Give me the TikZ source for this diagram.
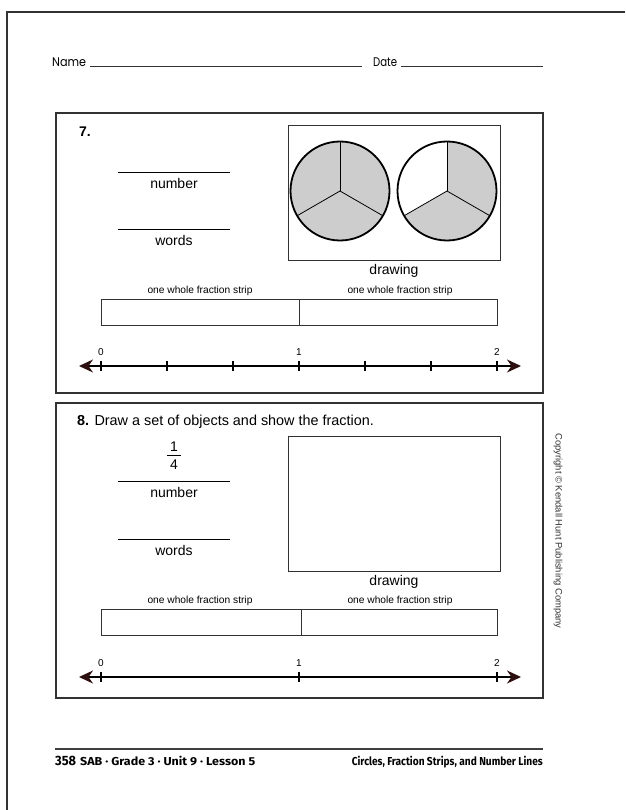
\documentclass[tikz,border=0pt]{standalone}
\usepackage{fontspec}
\setmainfont{Liberation Sans}
\newfontfamily\namefont{Poppins}
\newfontfamily\footfont{Fira Sans}
\usetikzlibrary{arrows.meta}
\definecolor{arrowc}{RGB}{45,15,15}
\definecolor{fillg}{RGB}{205,205,205}
\definecolor{framec}{RGB}{50,50,50}
\begin{document}
\begin{tikzpicture}[x=1pt,y=-1pt,
  frame/.style={draw=framec, line width=1.1pt},
  blank/.style={draw=black, line width=0.9pt},
  body/.style={font=\fontsize{14}{16}\selectfont, inner sep=0pt},
  small/.style={font=\fontsize{10.2}{12}\selectfont, inner sep=0pt},
  ticklab/.style={font=\fontsize{10}{12}\selectfont, inner sep=0pt},
  strip/.style={draw=framec, line width=1pt},
  nline/.style={draw=black, line width=1.3pt, {Stealth[length=14pt,width=13pt,inset=4.5pt,color=arrowc]}-{Stealth[length=14pt,width=13pt,inset=4.5pt,color=arrowc]}},
  tk/.style={draw=black, line width=1.2pt},
  circ/.style={draw=black, line width=1.8pt},
  sect/.style={draw=black, line width=0.8pt}
]
\useasboundingbox (0,0) rectangle (625,810);
\fill[white] (0,0) rectangle (625,810);
% page frame
\coordinate (ptr) at (625,12); \coordinate (ptl) at (7,12); \coordinate (pbl) at (7,810);
\draw[line width=1.2pt, framec] (ptr) -- (ptl) -- (pbl);
% header
\node[anchor=base west, inner sep=0pt, font=\namefont\fontsize{12.5}{14}\selectfont] (name) at (52,67) {\resizebox{34pt}{\height}{Name}};
\coordinate (nl1) at (90,66.5); \coordinate (nl2) at (362,66.5);
\draw[line width=0.9pt, black!80] (nl1) -- (nl2);
\node[anchor=base west, inner sep=0pt, font=\namefont\fontsize{12.5}{14}\selectfont] (date) at (373,67) {\resizebox{24pt}{\height}{Date}};
\coordinate (dl1) at (401,66.5); \coordinate (dl2) at (543,66.5);
\draw[line width=0.9pt, black!80] (dl1) -- (dl2);

% ===== Problem 7 =====
\draw[frame] (56,113) rectangle (543,393);
\node[body, anchor=west, font=\bfseries\fontsize{14}{16}\selectfont] (p7) at (79,132) {7.};
\coordinate (a1) at (118,172); \coordinate (a2) at (230,172);
\draw[blank] (a1) -- (a2);
\node[body] (num7) at (174,183) {number};
\coordinate (b1) at (118,229); \coordinate (b2) at (230,229);
\draw[blank] (b1) -- (b2);
\node[body] (words7) at (174,240) {words};
\draw[strip] (288,126) rectangle (500,260);
\node[body] (draw7) at (394,271) {drawing};
% circles
\coordinate (c1) at (340,191);
\coordinate (c2) at (447,191);
\fill[fillg] (c1) circle (49.5pt);
\fill[fillg] (c2) circle (49.5pt);
\fill[white] (c2) -- ++(90:49.5pt) arc[start angle=90,end angle=210,radius=49.5pt] -- cycle;
\foreach \c in {c1,c2}{
  \draw[sect] (\c) -- ++(90:49.5pt);
  \draw[sect] (\c) -- ++(210:49.5pt);
  \draw[sect] (\c) -- ++(330:49.5pt);
  \draw[circ] (\c) circle (49.5pt);
}
% strips
\node[small] (s7a) at (200,291) {one whole fraction strip};
\node[small] (s7b) at (400,291) {one whole fraction strip};
\draw[strip] (101,299) rectangle (497,325);
\coordinate (d7t) at (299,299); \coordinate (d7b) at (299,325);
\draw[strip] (d7t) -- (d7b);
% number line
\coordinate (L7) at (79,366); \coordinate (R7) at (521,366);
\draw[nline] (L7) -- (R7);
\foreach \i in {0,...,6}{
  \draw[tk] ({101+66*\i},361) -- ({101+66*\i},371);
}
\node[ticklab] (z7) at (101,352) {0};
\node[ticklab] (o7) at (299,352) {1};
\node[ticklab] (t7) at (497,352) {2};

% ===== Problem 8 =====
\draw[frame] (56,403) rectangle (543,698);
\node[body, anchor=west, font=\fontsize{14.4}{16}\selectfont] (p8) at (77,422) {\textbf{8.} Draw a set of objects and show the fraction.};
\node[body] (f1) at (174,447) {1};
\coordinate (fb1) at (167,455.5); \coordinate (fb2) at (181,455.5);
\draw[line width=0.9pt] (fb1) -- (fb2);
\node[body] (f4) at (174,465) {4};
\coordinate (e1) at (118,481); \coordinate (e2) at (230,481);
\draw[blank] (e1) -- (e2);
\node[body] (num8) at (174,492) {number};
\coordinate (g1) at (118,539); \coordinate (g2) at (230,539);
\draw[blank] (g1) -- (g2);
\node[body] (words8) at (174,550) {words};
\draw[strip] (288,436) rectangle (500,571);
\node[body] (draw8) at (394,582) {drawing};
\node[small] (s8a) at (200,601) {one whole fraction strip};
\node[small] (s8b) at (400,601) {one whole fraction strip};
\draw[strip] (101,609) rectangle (497,635);
\coordinate (d8t) at (301,609); \coordinate (d8b) at (301,635);
\draw[strip] (d8t) -- (d8b);
\coordinate (L8) at (79,677); \coordinate (R8) at (521,677);
\draw[nline] (L8) -- (R8);
\foreach \x in {101,299,497}{
  \draw[tk] (\x,672) -- (\x,682);
}
\node[ticklab] (z8) at (101,663) {0};
\node[ticklab] (o8) at (299,663) {1};
\node[ticklab] (t8) at (497,663) {2};

% copyright
\node[rotate=-90, inner sep=0pt, font=\fontsize{9.4}{11}\selectfont, text=black!80] (copy) at (558,531) {Copyright © Kendall Hunt Publishing Company};

% footer
\coordinate (fl1) at (55,749); \coordinate (fl2) at (543,749);
\draw[line width=1.4pt, black!75] (fl1) -- (fl2);
\node[anchor=base west, inner sep=0pt, font=\footfont\bfseries\fontsize{13.5}{15}\selectfont] (pg) at (55,765) {\resizebox{21pt}{\height}{358}};
\node[anchor=base west, inner sep=0pt, font=\footfont\bfseries\fontsize{11.5}{13}\selectfont] (lft) at (80,765) {\resizebox{175pt}{\height}{SAB · Grade 3 · Unit 9 · Lesson 5}};
\node[anchor=base east, inner sep=0pt, font=\footfont\bfseries\fontsize{11.5}{13}\selectfont] (rgt) at (543,765) {\resizebox{191pt}{\height}{Circles, Fraction Strips, and Number Lines}};
\end{tikzpicture}
\end{document}
